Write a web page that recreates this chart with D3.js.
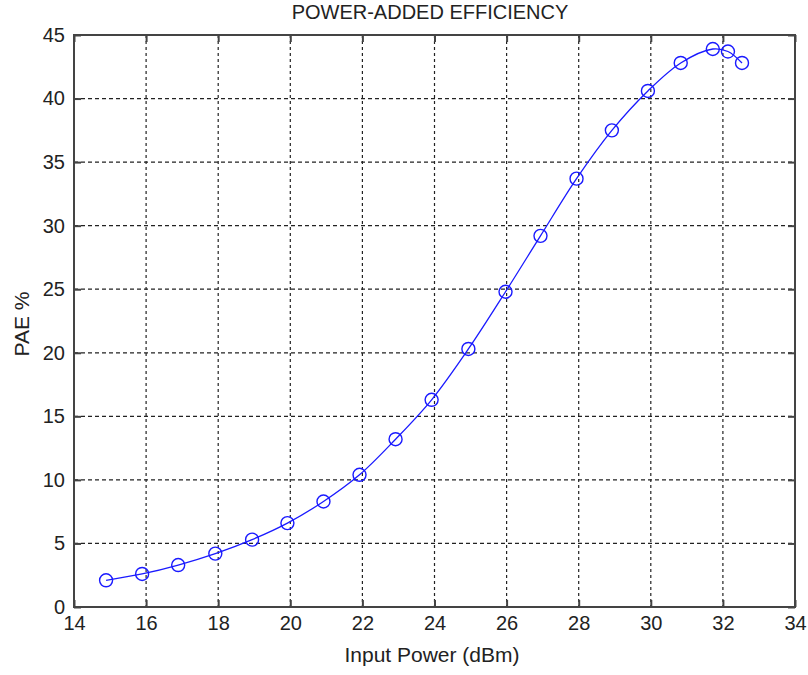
<!DOCTYPE html>
<html>
<head>
<meta charset="utf-8">
<script src="https://cdn.jsdelivr.net/npm/d3@7"></script>
<style>
  html, body { margin: 0; padding: 0; background: #fff; }
  svg { display: block; }
  text { font-family: "Liberation Sans", Arial, sans-serif; fill: #222; }
</style>
</head>
<body>
<svg id="chart" width="808" height="675"></svg>
<script>
// ---- data ----
const inputPower = [14.89, 15.89, 16.89, 17.92, 18.94, 19.92, 20.92, 21.92, 22.92, 23.92,
                    24.94, 25.97, 26.94, 27.94, 28.92, 29.92, 30.83, 31.72, 32.14, 32.53];
const pae = [2.1, 2.6, 3.3, 4.2, 5.3, 6.6, 8.3, 10.4, 13.2, 16.3,
             20.3, 24.8, 29.2, 33.7, 37.5, 40.6, 42.8, 43.9, 43.7, 42.8];
const xTicks = [14, 16, 18, 20, 22, 24, 26, 28, 30, 32, 34];
const yTicks = [0, 5, 10, 15, 20, 25, 30, 35, 40, 45];
const titleText = "POWER-ADDED EFFICIENCY";
const xLabel = "Input Power (dBm)";
const yLabel = "PAE %";

// ---- layout ----
const L = 74, R = 795, T = 35, B = 607;
const svg = d3.select("#chart");
const x = d3.scaleLinear().domain([14, 34]).range([L, R]);
const y = d3.scaleLinear().domain([0, 45]).range([B, T]);

// grid
const grid = svg.append("g");
grid.selectAll("line.vg").data(xTicks.slice(1, -1)).join("line")
  .attr("x1", d => x(d)).attr("x2", d => x(d)).attr("y1", T).attr("y2", B)
  .attr("stroke", "#222").attr("stroke-width", 1.2).attr("stroke-dasharray", "3,3");
grid.selectAll("line.hg").data(yTicks.slice(1, -1)).join("line")
  .attr("y1", d => y(d)).attr("y2", d => y(d)).attr("x1", L).attr("x2", R)
  .attr("stroke", "#222").attr("stroke-width", 1.2).attr("stroke-dasharray", "4,3");

// axes (box with inward ticks)
const tickLen = 7;
const axStyle = g => {
  g.select(".domain").remove();
  g.selectAll(".tick line").attr("stroke", "#444").attr("stroke-width", 2);
  g.selectAll(".tick text").style("font-size", "20px").attr("fill", "#222")
    .style("font-family", '"Liberation Sans", Arial, sans-serif');
};
svg.append("g").attr("transform", `translate(0,${B})`)
  .call(d3.axisBottom(x).tickValues(xTicks).tickSize(-tickLen).tickPadding(9).tickFormat(d3.format("d")))
  .call(axStyle);
svg.append("g").attr("transform", `translate(0,${T})`)
  .call(d3.axisTop(x).tickValues(xTicks).tickSize(-tickLen).tickFormat(""))
  .call(axStyle);
svg.append("g").attr("transform", `translate(${L},0)`)
  .call(d3.axisLeft(y).tickValues(yTicks).tickSize(-tickLen).tickPadding(9).tickFormat(d3.format("d")))
  .call(axStyle);
svg.append("g").attr("transform", `translate(${R},0)`)
  .call(d3.axisRight(y).tickValues(yTicks).tickSize(-tickLen).tickFormat(""))
  .call(axStyle);

svg.append("rect").attr("x", L).attr("y", T).attr("width", R - L).attr("height", B - T)
  .attr("fill", "none").attr("stroke", "#444").attr("stroke-width", 2);

// data line
const pts = inputPower.map((v, i) => [v, pae[i]]);
svg.append("path").datum(pts)
  .attr("fill", "none").attr("stroke", "#1a1aff").attr("stroke-width", 1.3)
  .attr("d", d3.line().x(d => x(d[0])).y(d => y(d[1])).curve(d3.curveCatmullRom));
svg.append("g").selectAll("circle").data(pts).join("circle")
  .attr("cx", d => x(d[0])).attr("cy", d => y(d[1])).attr("r", 6.5)
  .attr("fill", "none").attr("stroke", "#1a1aff").attr("stroke-width", 1.4);

// labels
svg.append("text").attr("x", 430).attr("y", 19).attr("text-anchor", "middle")
  .style("font-size", "20px").text(titleText);
svg.append("text").attr("x", 432).attr("y", 662).attr("text-anchor", "middle")
  .style("font-size", "21px").text(xLabel);
svg.append("text").attr("transform", "translate(29,324) rotate(-90)").attr("text-anchor", "middle")
  .style("font-size", "21px").text(yLabel);
</script>
</body>
</html>
